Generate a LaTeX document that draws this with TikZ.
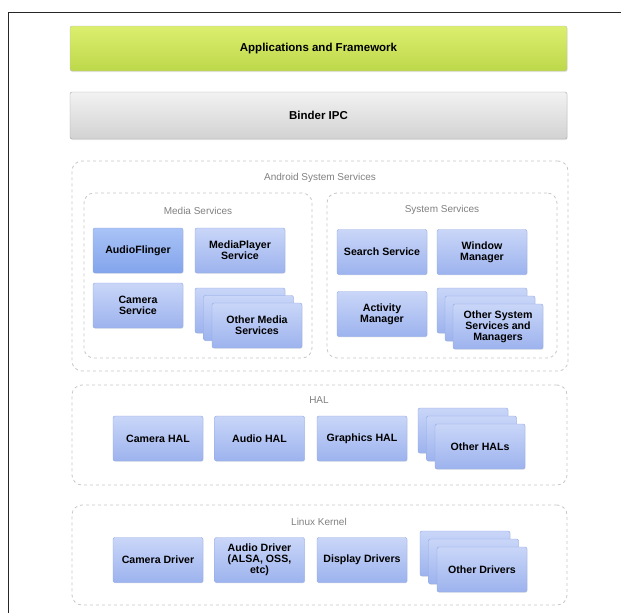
\documentclass[tikz,border=0pt]{standalone}
\usepackage{fontspec}
\setmainfont{Liberation Sans}
\usepackage{xcolor}
\usepackage{tikz}
\usetikzlibrary{shapes.geometric, shadows}
\definecolor{limetop}{HTML}{DCEE6E}
\definecolor{limebot}{HTML}{BDD84A}
\definecolor{bluetop}{HTML}{C9D6F8}
\definecolor{bluebot}{HTML}{9DB3EE}
\definecolor{blueedge}{HTML}{8EA6E4}
\definecolor{darktop}{HTML}{A9C3F6}
\definecolor{darkbot}{HTML}{83A4EC}
\definecolor{greytop}{HTML}{F2F2F2}
\definecolor{greybot}{HTML}{D2D2D2}
\tikzstyle{layer} = [rectangle, minimum width=497pt, minimum height=45pt, draw=black!25, rounded corners=2pt, font=\bfseries\fontsize{11.5}{13}\selectfont, drop shadow={opacity=0.18, shadow xshift=0.6pt, shadow yshift=-1pt}]
\tikzstyle{service} = [rectangle, minimum width=90pt, minimum height=45pt, draw=blueedge, top color=bluetop, bottom color=bluebot, rounded corners=2pt, align=center, font=\bfseries\fontsize{10.6}{11.2}\selectfont, drop shadow={opacity=0.15, shadow xshift=0.6pt, shadow yshift=-0.8pt}]
\tikzstyle{group} = [rectangle, draw=black!22, dashed, thick, rounded corners=10pt]
\tikzstyle{grouplabel} = [text=black!50, font=\fontsize{10}{12}\selectfont]

\begin{document}
\begin{tikzpicture}[x=1pt, y=-1pt]
	\useasboundingbox (0,0) rectangle (621,613);
	\draw [line width=1pt, black!85] (8,613) -- (8,12) -- (621,12);
	
	\node (app) [layer, top color=limetop, bottom color=limebot] at (318.5,48.5) {Applications and Framework};
	\node (binder) [layer, minimum height=47pt, top color=greytop, bottom color=greybot, draw=black!35] at (318.5,115.5) {Binder IPC};
	
	% system services
	\node (android) [group, minimum width=496pt, minimum height=210pt] at (320,266) {};
	\node (androidlbl) [grouplabel] at (320,178) {Android System Services};
	
	\node (media) [group, minimum width=228pt, minimum height=165pt] at (198,275.5) {};
	\node (medialbl) [grouplabel] at (198,211) {Media Services};
	\node (audioflinger) [service, top color=darktop, bottom color=darkbot] at (138,250.5) {AudioFlinger};
	\node (mediaplayer) [service] at (240,250.5) {MediaPlayer\\Service};
	\node (camerasvc) [service] at (138,305.5) {Camera\\Service};
	\node (othermedia3) [service] at (240,310.5) {};
	\node (othermedia2) [service] at (248.5,318) {};
	\node (othermedia) [service] at (257,325.5) {Other Media\\Services};
	
	\node (system) [group, minimum width=230pt, minimum height=165pt] at (442,275.5) {};
	\node (systemlbl) [grouplabel] at (442,210) {System Services};
	\node (search) [service] at (382,252) {Search Service};
	\node (window) [service] at (482,252) {Window\\Manager};
	\node (activity) [service] at (382,314) {Activity\\Manager};
	\node (othersys3) [service] at (482,310.5) {};
	\node (othersys2) [service] at (490,318.5) {};
	\node (othersys) [service] at (498,326.5) {Other System\\Services and\\Managers};
	
	% hal
	\node (hal) [group, minimum width=495pt, minimum height=100pt] at (319.5,435) {};
	\node (hallbl) [grouplabel] at (319,400) {HAL};
	\node (camerahal) [service] at (158,438.5) {Camera HAL};
	\node (audiohal) [service] at (259.5,438.5) {Audio HAL};
	\node (graphicshal) [service] at (362,438.5) {Graphics HAL};
	\node (otherhal3) [service] at (463,430.5) {};
	\node (otherhal2) [service] at (471.5,438.5) {};
	\node (otherhal) [service] at (480,446.5) {Other HALs};
	
	% kernel
	\node (kernel) [group, minimum width=495pt, minimum height=100pt] at (319.5,555) {};
	\node (kernellbl) [grouplabel] at (319,522) {Linux Kernel};
	\node (cameradrv) [service] at (158,560) {Camera Driver};
	\node (audiodrv) [service] at (259.5,560) {Audio Driver\\(ALSA, OSS,\\etc)};
	\node (displaydrv) [service] at (362,560) {Display Drivers};
	\node (otherdrv3) [service] at (465,553.5) {};
	\node (otherdrv2) [service] at (473.5,561.5) {};
	\node (otherdrv) [service] at (482,569.5) {Other Drivers};
	
\end{tikzpicture}
\end{document}
